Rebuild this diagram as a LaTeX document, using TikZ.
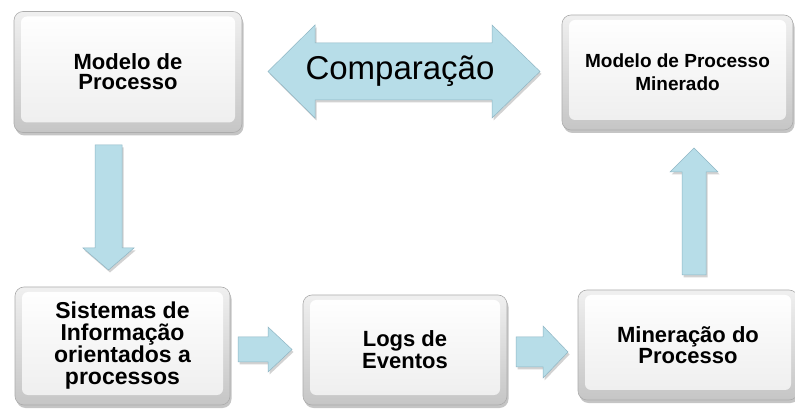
\documentclass[tikz,border=0pt]{standalone}
\usepackage{fontspec}
\setmainfont{Liberation Sans}
\usetikzlibrary{shadows}
\definecolor{arrowblue}{HTML}{B7DDE8}
\definecolor{arrowedge}{HTML}{8FB6C4}
\tikzset{
  bevelbox/.style={rounded corners=9pt, draw=gray!65, line width=0.6pt,
    top color=gray!12, bottom color=gray!45,
    drop shadow={shadow xshift=1.5pt, shadow yshift=-3pt, opacity=0.45},
    align=center, text=black, inner sep=0pt,
    path picture={\shade[top color=white, bottom color=gray!14, rounded corners=6pt]
      ([shift={(7pt,10pt)}]path picture bounding box.south west) rectangle
      ([shift={(-7pt,-5pt)}]path picture bounding box.north east);}},
  blockarrow/.style={fill=arrowblue, draw=arrowedge, line width=0.5pt, line join=miter,
    drop shadow={shadow xshift=1.5pt, shadow yshift=-2.5pt, opacity=0.35}},
}
\begin{document}
\begin{tikzpicture}[x=1pt, y=-1pt]
\useasboundingbox[fill=white] (0,0) rectangle (795,411);

% boxes
\node[bevelbox, minimum width=228pt, minimum height=121pt,
  font=\bfseries\fontsize{22}{20}\selectfont] (mp) at (128,72) {Modelo de\\Processo};
\node[bevelbox, minimum width=231pt, minimum height=115pt,
  font=\bfseries\fontsize{19}{23}\selectfont] (mm) at (677.5,72.5) {Modelo de Processo\\Minerado};
\node[bevelbox, minimum width=215pt, minimum height=118pt,
  font=\bfseries\fontsize{23}{22}\selectfont] (si) at (122.5,346) {Sistemas de\\Informação\\orientados a\\processos};
\node[bevelbox, minimum width=204pt, minimum height=110pt,
  font=\bfseries\fontsize{22}{22}\selectfont] (le) at (405,350) {Logs de\\Eventos};
\node[bevelbox, minimum width=220pt, minimum height=110pt,
  font=\bfseries\fontsize{22}{21}\selectfont] (mi) at (688,345) {Mineração do\\Processo};

% down arrow
\draw[blockarrow] (95,145) -- (122,145) -- (122,248) -- (134,248) -- (108.5,270)
  -- (83,248) -- (95,248) -- cycle;
% up arrow
\draw[blockarrow] (682,275) -- (706,275) -- (706,172) -- (718,172) -- (694,148)
  -- (670,172) -- (682,172) -- cycle;
% right arrow 1
\draw[blockarrow] (238,337) -- (268,337) -- (268,327) -- (292,349.5) -- (268,372)
  -- (268,362) -- (238,362) -- cycle;
% right arrow 2
\draw[blockarrow] (516,337) -- (543,337) -- (543,326) -- (568,352) -- (543,378)
  -- (543,367) -- (516,367) -- cycle;
% double arrow
\draw[blockarrow] (268,71.5) -- (315,25) -- (315,43) -- (492,43) -- (492,25)
  -- (540,71.5) -- (492,118) -- (492,100) -- (315,100) -- (315,118) -- cycle;
\node[font=\fontsize{33}{33}\selectfont, inner sep=0pt] (cmp) at (400,71) {Comparação};
\end{tikzpicture}
\end{document}
